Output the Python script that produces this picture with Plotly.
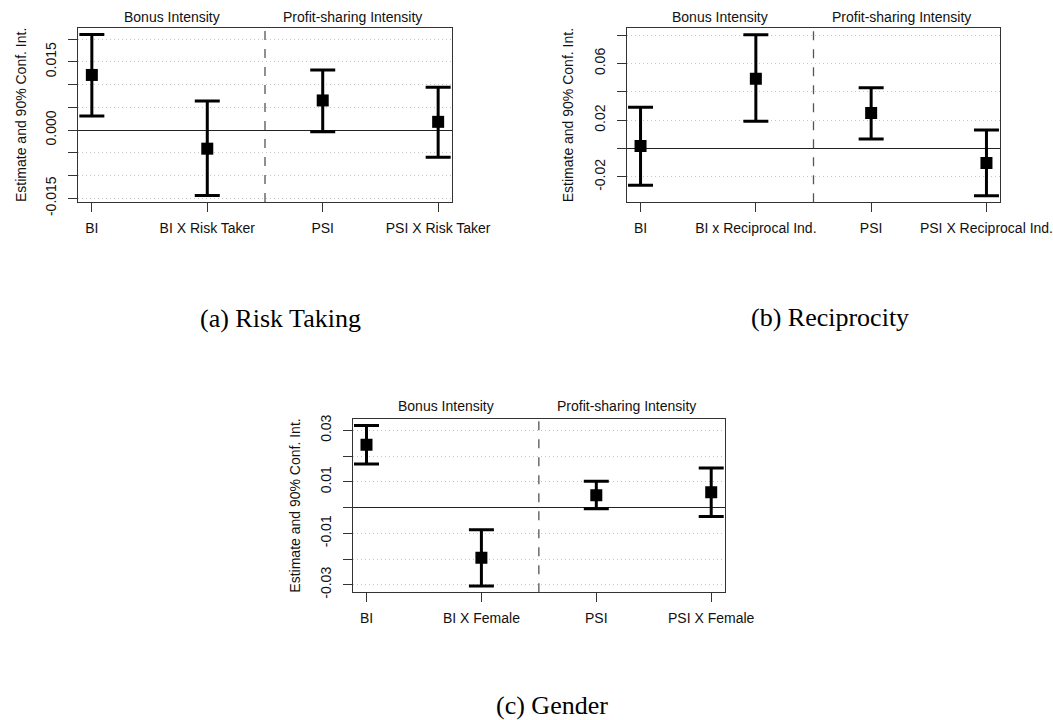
import plotly.graph_objects as go

# ---------------- data ----------------
positions = [1, 2, 3, 4]

categories_a = ["BI", "BI X Risk Taker", "PSI", "PSI X Risk Taker"]
est_a = [0.0121, -0.0041, 0.0065, 0.0018]
lo_a = [0.0031, -0.0144, -0.0004, -0.0060]
hi_a = [0.0210, 0.0064, 0.0132, 0.0094]

categories_b = ["BI", "BI x Reciprocal Ind.", "PSI", "PSI X Reciprocal Ind."]
est_b = [0.0019, 0.0493, 0.0251, -0.0101]
lo_b = [-0.0258, 0.0193, 0.0068, -0.0333]
hi_b = [0.0291, 0.0803, 0.0430, 0.0132]

categories_c = ["BI", "BI X Female", "PSI", "PSI X Female"]
est_c = [0.0244, -0.0195, 0.0048, 0.0060]
lo_c = [0.0169, -0.0304, -0.0005, -0.0035]
hi_c = [0.0319, -0.0086, 0.0102, 0.0154]

yticks_a = [-0.015, -0.010, -0.005, 0.0, 0.005, 0.010, 0.015, 0.020]
ylabels_a = ["-0.015", "", "", "0.000", "", "", "0.015", ""]
yticks_b = [-0.02, 0.0, 0.02, 0.04, 0.06, 0.08]
ylabels_b = ["-0.02", "", "0.02", "", "0.06", ""]
yticks_c = [-0.03, -0.02, -0.01, 0.0, 0.01, 0.02, 0.03]
ylabels_c = ["-0.03", "", "-0.01", "", "0.01", "", "0.03"]

group_labels = ["Bonus Intensity", "Profit-sharing Intensity"]
captions = ["(a) Risk Taking", "(b) Reciprocity", "(c) Gender"]
y_title = "Estimate and 90% Conf. Int."

# ---------------- layout helpers ----------------
W, H = 1053, 720


def fx(p):
    return p / W


def fy(p):
    return 1 - p / H


SANS = "Liberation Sans, Arial, Helvetica, sans-serif"
SERIF = "Liberation Serif, Times New Roman, serif"
TXT = "#111111"
BOX = "#333333"

panels = [
    dict(cat=categories_a, est=est_a, lo=lo_a, hi=hi_a, yt=yticks_a, yl=ylabels_a,
         box=(78, 452, 28, 202), ytitle_x=21, head_y=16.5, cap=(280.5, 318)),
    dict(cat=categories_b, est=est_b, lo=lo_b, hi=hi_b, yt=yticks_b, yl=ylabels_b,
         box=(626.7, 1000.3, 28.3, 202.3), ytitle_x=568, head_y=16.5, cap=(830, 317)),
    dict(cat=categories_c, est=est_c, lo=lo_c, hi=hi_c, yt=yticks_c, yl=ylabels_c,
         box=(352.7, 725, 419, 592.3), ytitle_x=295, head_y=405.5, cap=(552, 705)),
]

fig = go.Figure()
annotations = []
shapes = []
layout_axes = {}

for i, p in enumerate(panels, start=1):
    sfx = "" if i == 1 else str(i)
    xa, ya = "x" + sfx, "y" + sfx
    up = [h - e for h, e in zip(p["hi"], p["est"])]
    dn = [e - l for e, l in zip(p["est"], p["lo"])]
    fig.add_trace(go.Scatter(
        x=positions, y=p["est"], mode="markers", xaxis=xa, yaxis=ya,
        marker=dict(symbol="square", size=12, color="black"),
        error_y=dict(type="data", symmetric=False, array=up, arrayminus=dn,
                     color="black", thickness=3, width=12.5),
        showlegend=False, hoverinfo="skip"))

    lo_all, hi_all = min(p["lo"]), max(p["hi"])
    span = hi_all - lo_all
    yr = [lo_all - 0.04 * span, hi_all + 0.04 * span]
    x0, x1, t0, t1 = p["box"]

    layout_axes["xaxis" + sfx] = dict(
        domain=[fx(x0), fx(x1)], anchor=ya, range=[0.88, 4.12],
        tickmode="array", tickvals=positions, ticktext=p["cat"],
        showgrid=False, zeroline=False, showline=True, mirror=True,
        linecolor=BOX, linewidth=1, ticks="outside", ticklen=9, tickcolor=BOX,
        tickwidth=1, ticklabelstandoff=4,
        tickfont=dict(family=SANS, size=14, color=TXT), fixedrange=True)
    layout_axes["yaxis" + sfx] = dict(
        domain=[fy(t1), fy(t0)], anchor=xa, range=yr,
        tickmode="array", tickvals=p["yt"], ticktext=p["yl"], tickangle=-90,
        showgrid=True, gridcolor="#c4c4c4", griddash="1px,3px", gridwidth=1,
        zeroline=True, zerolinecolor="#222222", zerolinewidth=1,
        showline=True, mirror=True, linecolor=BOX, linewidth=1,
        ticks="outside", ticklen=9, tickcolor=BOX, tickwidth=1,
        ticklabelstandoff=6,
        tickfont=dict(family=SANS, size=14, color=TXT), fixedrange=True)

    # dashed separator between the two groups
    shapes.append(dict(type="line", xref=xa, yref=ya + " domain", x0=2.5, x1=2.5,
                       y0=0, y1=1, line=dict(color="#555555", width=1.3, dash="dash")))

    # group headers
    for gx, g in zip([0.25, 0.735], group_labels):
        annotations.append(dict(text=g, xref=xa + " domain", x=gx, yref="paper",
                                y=fy(p["head_y"]), xanchor="center", yanchor="middle",
                                showarrow=False, font=dict(family=SANS, size=14, color=TXT)))
    # y title
    annotations.append(dict(text=y_title, xref="paper", x=fx(p["ytitle_x"]), yref="paper",
                            y=fy((t0 + t1) / 2), xanchor="center", yanchor="middle",
                            textangle=-90, showarrow=False,
                            font=dict(family=SANS, size=14, color=TXT)))
    # caption
    annotations.append(dict(text=captions[i - 1], xref="paper", x=fx(p["cap"][0]),
                            yref="paper", y=fy(p["cap"][1]), xanchor="center",
                            yanchor="middle", showarrow=False,
                            font=dict(family=SERIF, size=26, color="black")))

fig.update_layout(
    width=W, height=H,
    margin=dict(l=0, r=0, t=0, b=0, pad=0, autoexpand=False),
    paper_bgcolor="white", plot_bgcolor="white",
    annotations=annotations, shapes=shapes, **layout_axes)

fig.write_html(
    "out.html",
    config={"displayModeBar": False, "responsive": False},
    post_script="document.body.style.margin='0';document.body.style.overflow='hidden';",
)
